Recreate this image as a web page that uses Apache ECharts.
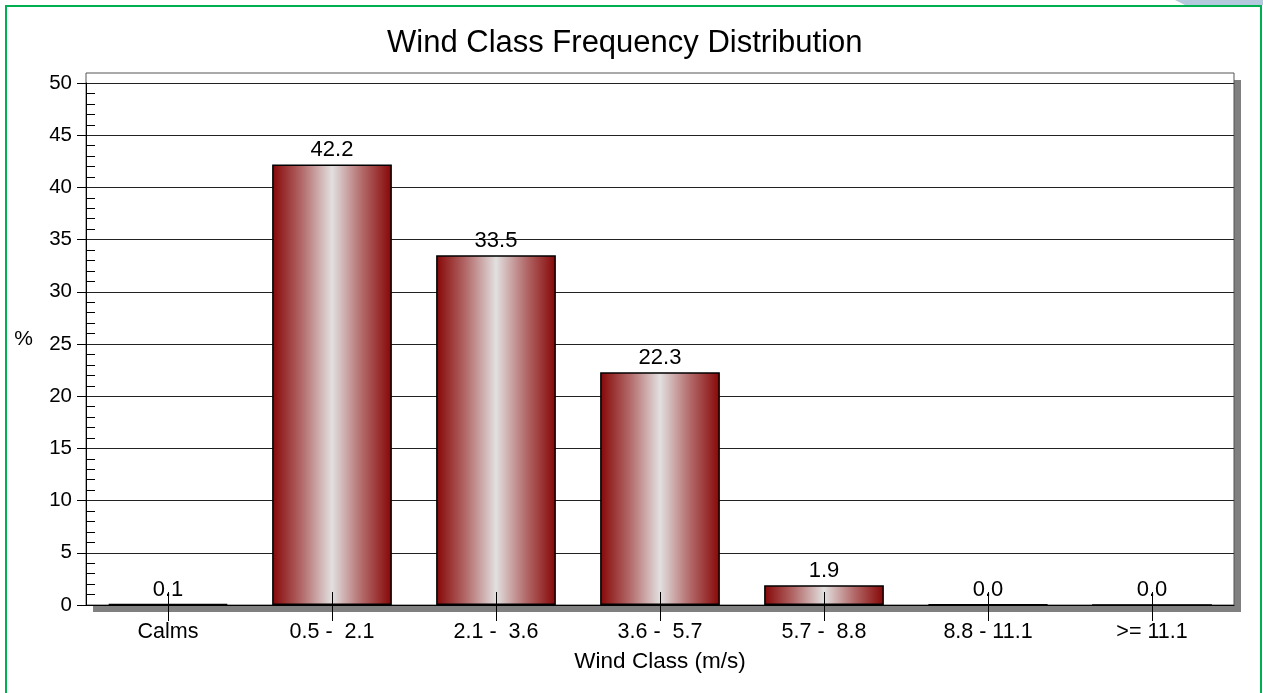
<!DOCTYPE html>
<html>
<head>
<meta charset="utf-8">
<script src="https://cdn.jsdelivr.net/npm/echarts@6/dist/echarts.min.js"></script>
<style>
html,body{margin:0;padding:0;background:#fff;}
#chart{width:1263px;height:693px;}
</style>
</head>
<body>
<div id="chart"></div>
<script>
const categories = ['Calms', '0.5 -  2.1', '2.1 -  3.6', '3.6 -  5.7', '5.7 -  8.8', '8.8 - 11.1', '>= 11.1'];
const frequency = [0.1, 42.2, 33.5, 22.3, 1.9, 0.04, 0.0];
const titleText = 'Wind Class Frequency Distribution';
const xName = 'Wind Class (m/s)';
const yName = '%';

const FONT = "'Liberation Sans', Arial, sans-serif";
const chart = echarts.init(document.getElementById('chart'));
const barGradient = new echarts.graphic.LinearGradient(0, 0, 1, 0, [
  {offset: 0, color: '#860606'},
  {offset: 0.25, color: '#b36a6a'},
  {offset: 0.5, color: '#e2e0e0'},
  {offset: 0.75, color: '#b36a6a'},
  {offset: 1, color: '#860606'}
]);

chart.setOption({
  backgroundColor: '#ffffff',
  animation: false,
  title: {
    text: titleText,
    left: 382,
    top: 23,
    textStyle: {fontFamily: FONT, fontSize: 31, fontWeight: 'normal', color: '#000'}
  },
  graphic: [
    {type: 'rect', z: -10, shape: {x: 6, y: 6, width: 1255, height: 700},
     style: {fill: 'none', stroke: '#00b050', lineWidth: 2}},
    {type: 'polygon', z: -11, shape: {points: [[1175, 0], [1263, 0], [1263, 5], [1185, 5]]},
     style: {fill: '#b4c8de'}}
  ],
  grid: [
    { // plotting grid
      left: 86, right: 29, top: 83, bottom: 88,
      show: false
    },
    { // drop shadow backdrop
      left: 86, right: 29, top: 73, bottom: 88,
      show: true,
      backgroundColor: '#ffffff',
      borderWidth: 0,
      borderColor: 'transparent',
      shadowColor: '#808080',
      shadowBlur: 0,
      shadowOffsetX: 7,
      shadowOffsetY: 7,
      z: -2
    },
    { // outer frame line
      left: 86, right: 29, top: 73, bottom: 88,
      show: true,
      backgroundColor: 'transparent',
      borderColor: '#555',
      borderWidth: 1,
      z: -1
    }
  ],
  xAxis: [
    {
      type: 'category',
      gridIndex: 0,
      data: categories,
      position: 'bottom',
      z: 10,
      name: xName,
      nameLocation: 'middle',
      nameGap: 45,
      nameTextStyle: {fontFamily: FONT, fontSize: 22.5, color: '#000'},
      axisLine: {show: true, lineStyle: {color: '#000', width: 1}},
      axisTick: {show: true, alignWithLabel: true, length: 16, lineStyle: {color: '#000'}},
      axisLabel: {fontFamily: FONT, fontSize: 21.5, color: '#000', margin: 16, interval: 0},
      splitLine: {show: false}
    },
    {
      type: 'category',
      gridIndex: 0,
      data: categories,
      position: 'bottom',
      z: 10,
      axisLine: {show: false},
      axisTick: {show: true, inside: true, alignWithLabel: true, length: 13, lineStyle: {color: '#000'}},
      axisLabel: {show: false},
      splitLine: {show: false}
    },
    {type: 'category', gridIndex: 1, data: categories, show: false},
    {type: 'category', gridIndex: 2, data: categories, show: false}
  ],
  yAxis: [
    {
      type: 'value',
      gridIndex: 0,
      min: 0,
      max: 50,
      interval: 5,
      axisLine: {show: true, lineStyle: {color: '#000'}},
      axisTick: {show: true, length: 9, lineStyle: {color: '#000'}},
      axisLabel: {fontFamily: FONT, fontSize: 20.5, color: '#000', margin: 14},
      splitLine: {show: true, lineStyle: {color: '#222', width: 1}}
    },
    {
      type: 'value',
      gridIndex: 0,
      min: 0,
      max: 50,
      interval: 5,
      position: 'left',
      offset: 0,
      axisLine: {show: false},
      axisTick: {show: false, inside: true, length: 9},
      minorTick: {show: true, splitNumber: 5, length: 9, lineStyle: {color: '#000'}},
      axisLabel: {show: false},
      splitLine: {show: false}
    },
    {type: 'value', gridIndex: 1, show: false},
    {
      type: 'value',
      gridIndex: 2,
      position: 'left',
      name: yName,
      nameLocation: 'middle',
      nameRotate: 0,
      nameGap: 53,
      nameTextStyle: {fontFamily: FONT, fontSize: 21, color: '#000'},
      axisLine: {show: false},
      axisTick: {show: false},
      axisLabel: {show: false},
      splitLine: {show: false}
    }
  ],
  series: [{
    type: 'bar',
    xAxisIndex: 0,
    yAxisIndex: 0,
    data: frequency,
    barWidth: '73%',
    itemStyle: {color: barGradient, borderColor: '#000', borderWidth: 1.5},
    label: {
      show: true,
      position: 'top',
      distance: 3,
      fontFamily: FONT,
      fontSize: 22,
      color: '#000',
      formatter: p => p.value.toFixed(1)
    }
  }]
});
</script>
</body>
</html>
